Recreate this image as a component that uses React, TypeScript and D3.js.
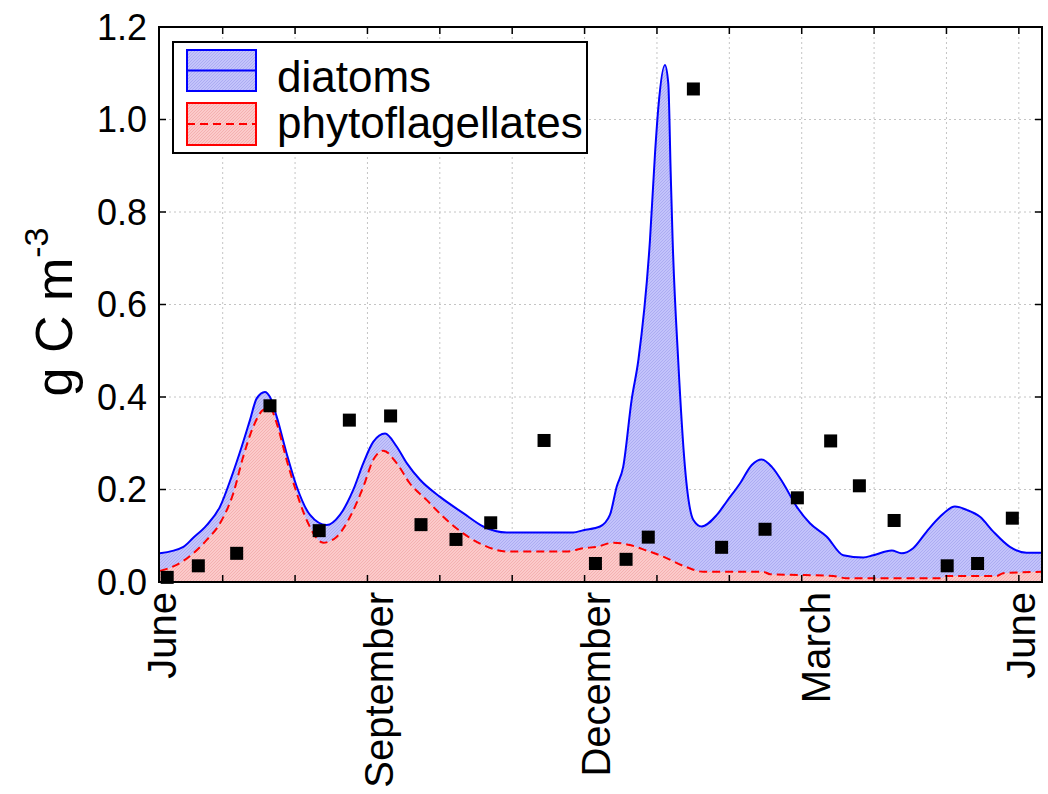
import React from "react";
import * as d3 from "d3";

// Time axis: days since start of June (one year)
const totalDays = [0.4,10.1,14.1,19.8,25.3,30.1,34.3,37.7,40.5,43.9,46.0,48.8,52.9,57.1,62.6,69.5,75.0,80.5,84.7,88.8,93.7,98.5,102.7,108.2,116.5,126.1,134.4,144.1,171.7,175.9,182.8,186.9,189.7,192.4,195.9,198.7,203.5,205.6,207.0,209.7,211.1,212.1,212.9,215.2,218.0,221.5,224.9,231.2,235.3,240.8,245.7,249.8,254.0,258.8,264.3,269.8,276.8,283.6,291.9,296.1,303.7,307.8,312.6,318.2,323.7,329.9,334.8,340.3,345.8,352.7,359.6,365.9];
// diatoms stacked on phytoflagellates (upper blue line)
const totalValues = [0.062,0.076,0.095,0.123,0.163,0.228,0.293,0.350,0.397,0.411,0.400,0.357,0.278,0.206,0.145,0.123,0.145,0.199,0.257,0.303,0.321,0.293,0.257,0.221,0.184,0.149,0.120,0.107,0.107,0.112,0.120,0.145,0.206,0.249,0.394,0.48,0.739,0.927,1.028,1.118,1.078,0.884,0.739,0.48,0.249,0.134,0.120,0.145,0.174,0.213,0.253,0.265,0.249,0.213,0.163,0.127,0.098,0.058,0.053,0.058,0.068,0.062,0.073,0.109,0.141,0.163,0.156,0.141,0.109,0.076,0.063,0.063];

const phytoDays = [0.4,7.3,14.2,19.8,25.3,30.8,34.9,39.1,43.2,46.0,48.8,52.9,57.1,61.2,68.1,73.7,79.2,84.7,88.8,93.0,98.5,104.0,111.0,117.8,126.1,134.4,144.1,169.0,175.9,181.4,188.3,195.2,202.1,209.0,218.7,225.6,250.5,253.3,279.5,285.0,323.7,326.5,347.2,349.9,365.9];
const phytoValues = [0.024,0.037,0.062,0.091,0.127,0.192,0.271,0.336,0.372,0.376,0.343,0.264,0.192,0.134,0.085,0.098,0.141,0.206,0.264,0.284,0.257,0.213,0.177,0.141,0.105,0.080,0.066,0.066,0.073,0.076,0.085,0.080,0.068,0.055,0.032,0.022,0.022,0.017,0.013,0.008,0.008,0.013,0.013,0.019,0.022];

const obsDays = [3.4,16.3,32.2,46.0,66.4,78.9,96.0,108.6,123.1,137.5,159.6,180.9,193.6,202.8,221.5,233.2,251.2,264.6,278.4,290.3,304.7,326.7,339.3,353.7];
const obsValues = [0.010,0.035,0.062,0.381,0.111,0.350,0.359,0.124,0.092,0.128,0.306,0.040,0.049,0.097,1.066,0.075,0.114,0.182,0.305,0.208,0.133,0.035,0.040,0.138];

const gridDays = [26.4,56.4,86.4,116.4,146.4,176.4,206.4,236.4,266.4,296.4,326.4,356.4];
const monthLabels = ["June","September","December","March","June"];
const monthLabelDays = [1,91,181,272,357];
const yTicks = [0,0.2,0.4,0.6,0.8,1.0,1.2];
const legendLabels = ["diatoms","phytoflagellates"];

const W = 1048, H = 794;
const L = 159, R = 1042, T = 27, B = 582;
const FONT = "'Liberation Sans', Arial, Helvetica, sans-serif";

export default function App() {
  const x = d3.scaleLinear().domain([0, 366]).range([L, R]);
  const y = d3.scaleLinear().domain([0, 1.2]).range([B, T]);

  const total = totalDays.map((d, i) => [d, totalValues[i]] as [number, number]);
  const phyto = phytoDays.map((d, i) => [d, phytoValues[i]] as [number, number]);

  const area = d3.area<[number, number]>().x(d => x(d[0])).y0(y(0)).y1(d => y(d[1])).curve(d3.curveMonotoneX);
  const line = d3.line<[number, number]>().x(d => x(d[0])).y(d => y(d[1])).curve(d3.curveMonotoneX);

  const sq = 13;
  return (
    <svg width={W} height={H} style={{ position: "absolute", left: 0, top: 0, background: "#fff" }} fontFamily={FONT}>
      <defs>
        <pattern id="hatchBlue" patternUnits="userSpaceOnUse" width={3} height={3}>
          <rect width={3} height={3} fill="#c3c3fb" />
          <path d="M0,3 L3,0" stroke="#a6a6f0" strokeWidth={0.8} />
        </pattern>
        <pattern id="hatchRed" patternUnits="userSpaceOnUse" width={3} height={3}>
          <rect width={3} height={3} fill="#fccaca" />
          <path d="M0,3 L3,0" stroke="#f3abab" strokeWidth={0.8} />
        </pattern>
        <clipPath id="plotClip">
          <rect x={L} y={T} width={R - L} height={B - T} />
        </clipPath>
      </defs>
      <rect x={0} y={0} width={W} height={H} fill="#fff" />
      {/* grid */}
      <g stroke="#c4c4c4" strokeWidth={1} strokeDasharray="2,3">
        {yTicks.filter(v => v > 0 && v < 1.2).map(v => (
          <line key={"gy" + v} x1={L} x2={R} y1={y(v)} y2={y(v)} />
        ))}
        {gridDays.map(d => (
          <line key={"gx" + d} x1={x(d)} x2={x(d)} y1={T} y2={B} />
        ))}
      </g>
      <g clipPath="url(#plotClip)">
        <path d={area(total) || ""} fill="url(#hatchBlue)" />
        <path d={area(phyto) || ""} fill="url(#hatchRed)" />
        <path d={line(total) || ""} fill="none" stroke="#0000ff" strokeWidth={2} />
        <path d={line(phyto) || ""} fill="none" stroke="#ff0000" strokeWidth={2} strokeDasharray="8,5" />
      </g>
      {obsDays.map((d, i) => (
        <rect key={"o" + i} x={x(d) - sq / 2} y={y(obsValues[i]) - sq / 2} width={sq} height={sq} fill="#000" />
      ))}
      {/* ticks */}
      <g stroke="#000" strokeWidth={1.5}>
        {yTicks.map(v => (
          <g key={"ty" + v}>
            <line x1={L} x2={L + 7} y1={y(v)} y2={y(v)} />
            <line x1={R} x2={R - 7} y1={y(v)} y2={y(v)} />
          </g>
        ))}
        {gridDays.map(d => (
          <g key={"tx" + d}>
            <line x1={x(d)} x2={x(d)} y1={B} y2={B - 7} />
            <line x1={x(d)} x2={x(d)} y1={T} y2={T + 7} />
          </g>
        ))}
      </g>
      <rect x={L} y={T} width={R - L} height={B - T} fill="none" stroke="#000" strokeWidth={2} />
      {/* y tick labels */}
      {yTicks.map(v => (
        <text key={"yl" + v} x={147} y={y(v)} dy="0.36em" textAnchor="end" fontSize={36} fill="#000">
          {v.toFixed(1)}
        </text>
      ))}
      {/* month labels */}
      {monthLabels.map((m, i) => (
        <text key={"ml" + i} transform={`translate(${x(monthLabelDays[i])},592) rotate(-90)`} textAnchor="end" dy="0.36em" fontSize={40} fill="#000">
          {m}
        </text>
      ))}
      {/* y axis label */}
      <text transform={`translate(72,312) rotate(-90)`} textAnchor="middle" fontSize={52} fill="#000">
        g C m<tspan fontSize={34} dy={-24}>-3</tspan>
      </text>
      {/* legend */}
      <g>
        <rect x={173} y={42} width={414} height={111} fill="#fff" stroke="#000" strokeWidth={2} />
        <rect x={187} y={50} width={69} height={41} fill="url(#hatchBlue)" stroke="#0000ff" strokeWidth={2} />
        <line x1={187} x2={256} y1={70.5} y2={70.5} stroke="#0000ff" strokeWidth={2} />
        <rect x={187} y={103} width={69} height={42} fill="url(#hatchRed)" stroke="#ff0000" strokeWidth={2} />
        <line x1={187} x2={256} y1={124} y2={124} stroke="#ff0000" strokeWidth={2} strokeDasharray="8,5" />
        <text x={277} y={92} fontSize={44} fill="#000">{legendLabels[0]}</text>
        <text x={277} y={138} fontSize={44} fill="#000">{legendLabels[1]}</text>
      </g>
    </svg>
  );
}
